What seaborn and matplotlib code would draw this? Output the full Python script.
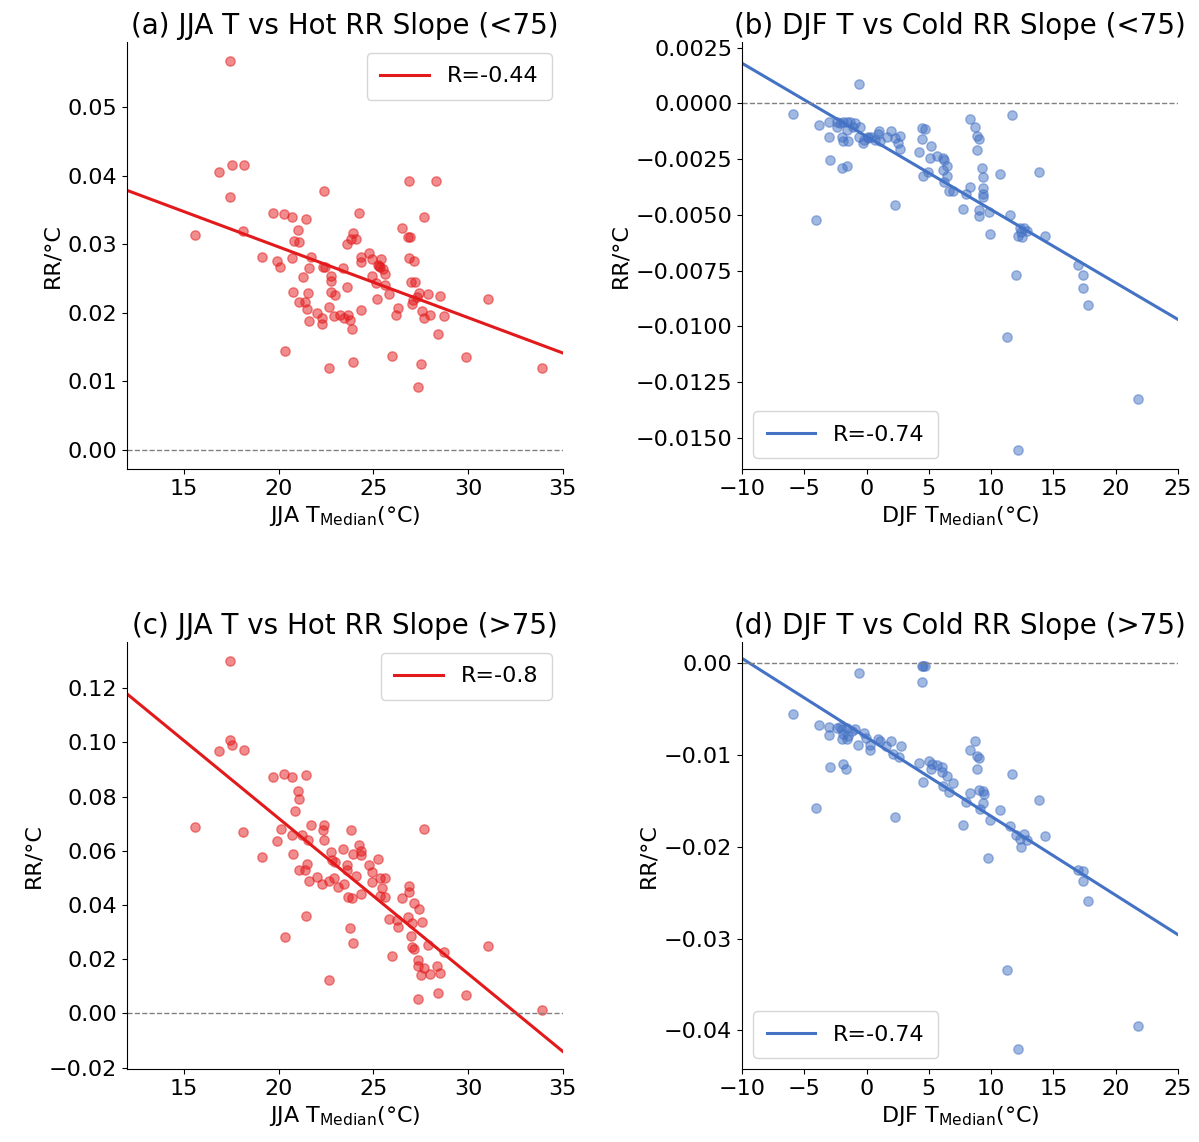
import matplotlib
matplotlib.use('Agg')
import matplotlib.pyplot as plt
import seaborn as sns

# JJA median temperature vs hot RR slope, cities with <75 / >75
jja_lt75_t = [17.44, 16.87, 17.52, 18.19, 17.44, 15.6, 18.1, 22.41, 26.9, 28.32,
              19.69, 20.27, 20.69, 21.43, 24.26, 27.67, 21.0, 20.83, 21.09, 26.5,
              26.85, 26.94, 23.93, 24.08, 23.8, 23.59, 19.1, 19.93, 20.09, 20.69,
              21.69, 21.6, 22.36, 22.45, 23.42, 24.77, 24.35, 24.35, 24.91, 25.4,
              25.23, 25.35, 25.53, 25.62, 24.91, 25.14, 25.62, 26.9, 27.16, 26.99,
              27.2, 27.41, 27.9, 28.5, 27.28, 27.06, 31.07, 21.27, 22.75, 22.77,
              23.59, 20.78, 21.57, 22.77, 22.98, 25.85, 25.18, 21.08, 21.39, 21.48,
              22.66, 22.01, 22.27, 21.6, 22.27, 22.92, 23.24, 23.68, 23.79, 23.45,
              23.86, 24.35, 26.28, 26.18, 27.55, 27.67, 27.99, 28.74, 28.39, 20.34,
              22.68, 23.93, 26.0, 27.5, 29.89, 27.34, 33.9, 25.3, 27.07]
jja_lt75_rr = [0.0567, 0.0406, 0.0415, 0.0415, 0.0369, 0.0314, 0.0319, 0.0378, 0.0392, 0.0392,
               0.0346, 0.0344, 0.0340, 0.0337, 0.0346, 0.0339, 0.0321, 0.0305, 0.0303, 0.0323,
               0.0311, 0.0310, 0.0316, 0.0307, 0.0307, 0.0301, 0.0282, 0.0275, 0.0267, 0.0280,
               0.0282, 0.0266, 0.0267, 0.0267, 0.0266, 0.0287, 0.0282, 0.0274, 0.0278, 0.0278,
               0.0270, 0.0267, 0.0264, 0.0257, 0.0253, 0.0243, 0.0240, 0.0280, 0.0275, 0.0245,
               0.0245, 0.0229, 0.0227, 0.0225, 0.0223, 0.0213, 0.0220, 0.0252, 0.0253, 0.0246,
               0.0238, 0.0231, 0.0229, 0.0231, 0.0226, 0.0227, 0.0220, 0.0215, 0.0216, 0.0205,
               0.0209, 0.0199, 0.0193, 0.0188, 0.0183, 0.0195, 0.0196, 0.0197, 0.0190, 0.0192,
               0.0176, 0.0204, 0.0207, 0.0197, 0.0202, 0.0193, 0.0197, 0.0195, 0.0169, 0.0144,
               0.0120, 0.0128, 0.0137, 0.0125, 0.0135, 0.0091, 0.0119, 0.0268, 0.0219]

jja_gt75_t = [17.44, 16.87, 17.44, 17.52, 18.19, 15.6, 18.1, 19.69, 20.27, 20.69,
              21.43, 21.0, 21.09, 20.86, 20.1, 19.93, 20.69, 21.69, 22.41, 22.36,
              21.22, 21.57, 22.41, 23.84, 27.67, 19.1, 20.78, 21.52, 21.08, 21.39,
              22.77, 22.8, 23.0, 23.42, 23.93, 24.26, 24.35, 24.35, 23.59, 23.59,
              24.77, 25.23, 24.91, 21.6, 22.01, 22.27, 22.66, 22.94, 23.15, 23.45,
              24.08, 23.68, 23.86, 24.35, 24.91, 25.35, 25.62, 25.44, 25.35, 25.62,
              26.9, 26.9, 26.5, 27.16, 27.41, 25.85, 26.23, 26.28, 26.85, 27.06,
              27.58, 26.99, 27.06, 27.16, 27.9, 28.74, 27.34, 27.34, 27.69, 27.5,
              27.99, 28.34, 28.5, 28.39, 27.34, 29.89, 31.07, 33.9, 21.43, 20.34,
              23.77, 23.93, 26.0, 22.68]
jja_gt75_rr = [0.1299, 0.0967, 0.1009, 0.0991, 0.0972, 0.0686, 0.0669, 0.0874, 0.0884, 0.0874,
               0.0880, 0.0822, 0.0792, 0.0746, 0.0681, 0.0635, 0.0658, 0.0694, 0.0694, 0.0675,
               0.0658, 0.0640, 0.0640, 0.0675, 0.0681, 0.0576, 0.0588, 0.0553, 0.0529, 0.0529,
               0.0594, 0.0566, 0.0560, 0.0605, 0.0588, 0.0622, 0.0599, 0.0584, 0.0546, 0.0529,
               0.0546, 0.0569, 0.0522, 0.0489, 0.0504, 0.0479, 0.0489, 0.0501, 0.0467, 0.0476,
               0.0506, 0.0430, 0.0424, 0.0442, 0.0485, 0.0498, 0.0500, 0.0461, 0.0433, 0.0430,
               0.0471, 0.0449, 0.0424, 0.0409, 0.0386, 0.0350, 0.0344, 0.0319, 0.0354, 0.0334,
               0.0338, 0.0285, 0.0245, 0.0239, 0.0251, 0.0227, 0.0196, 0.0175, 0.0169, 0.0140,
               0.0147, 0.0175, 0.0150, 0.0075, 0.0052, 0.0069, 0.0250, 0.0011, 0.0361, 0.0281,
               0.0315, 0.0261, 0.0211, 0.0122]

# DJF median temperature vs cold RR slope
djf_lt75_t = [-0.6, -5.93, -3.79, -3.04, -3.04, -2.9, -4.03, -1.94, -1.59, -2.4,
              -2.13, -1.86, -1.59, -1.32, -2.4, -2.0, -1.86, -1.46, -1.59, -1.06,
              -0.57, -0.65, -0.25, -0.31, 0.09, 0.33, 0.68, 1.03, 0.95, 1.08,
              1.62, 1.97, 2.29, 2.64, 2.48, 2.64, 2.29, 4.46, 4.7, 4.43,
              4.22, 5.18, 5.05, 5.69, 6.12, 6.25, 6.49, 6.12, 6.49, 4.56,
              4.96, 6.25, 6.65, 6.92, 7.99, 8.26, 7.72, 8.26, 8.74, 8.88,
              9.01, 8.88, 9.25, 9.38, 9.38, 9.38, 9.38, 9.01, 9.06, 9.79,
              9.87, 10.67, 11.68, 11.55, 12.28, 12.6, 12.38, 12.14, 12.46, 12.86,
              14.34, 13.8, 12.0, 11.26, 12.14, 16.96, 17.36, 17.36, 17.74, 21.78,
              -0.92, 0.14]
djf_lt75_rr = [0.00087, -0.00047, -0.00096, -0.00083, -0.00153, -0.00252, -0.00522, -0.00288, -0.00280, -0.00083,
               -0.00089, -0.00082, -0.00082, -0.00082, -0.00107, -0.00149, -0.00168, -0.00171, -0.00119, -0.00104,
               -0.00107, -0.00149, -0.00164, -0.00180, -0.00149, -0.00152, -0.00164, -0.00122, -0.00137, -0.00168,
               -0.00149, -0.00122, -0.00156, -0.00146, -0.00179, -0.00204, -0.00458, -0.00111, -0.00115, -0.00159,
               -0.00216, -0.00193, -0.00243, -0.00234, -0.00246, -0.00254, -0.00281, -0.00301, -0.00328, -0.00328,
               -0.00310, -0.00353, -0.00395, -0.00395, -0.00405, -0.00373, -0.00472, -0.00068, -0.00104, -0.00146,
               -0.00161, -0.00208, -0.00288, -0.00331, -0.00378, -0.00406, -0.00421, -0.00478, -0.00507, -0.00487,
               -0.00585, -0.00316, -0.00054, -0.00500, -0.00560, -0.00560, -0.00579, -0.00594, -0.00600, -0.00572,
               -0.00593, -0.00309, -0.00769, -0.01046, -0.01554, -0.00727, -0.00771, -0.00826, -0.00904, -0.01327,
               -0.00086, -0.00157]

djf_gt75_t = [-0.6, 4.43, 4.7, 4.51, 4.43, -5.93, -3.79, -3.04, -3.04, -2.4,
              -2.0, -1.59, -1.19, -1.86, -1.46, -2.0, -1.54, -0.73, -0.25, -0.04,
              0.3, 0.3, 0.95, 1.08, 1.57, 1.94, 2.1, 2.56, 2.72, 2.29,
              -2.9, -1.86, -1.62, -4.03, 4.22, 4.99, 5.23, 5.69, 6.09, 5.18,
              6.09, 6.44, 6.97, 6.17, 6.65, 4.56, 8.26, 7.99, 7.72, 8.74,
              8.26, 8.88, 9.01, 8.88, 9.01, 9.33, 9.44, 9.38, 9.12, 9.92,
              9.73, 10.67, 11.68, 11.52, 12.0, 12.65, 12.28, 12.86, 12.41, 14.34,
              13.83, 16.96, 17.36, 17.36, 17.74, 11.26, 12.14, 21.78, -0.92, -2.13]
djf_gt75_rr = [-0.00104, -0.00031, -0.00031, -0.00035, -0.00206, -0.00552, -0.00672, -0.00694, -0.00778, -0.00708,
               -0.00716, -0.00708, -0.00734, -0.00770, -0.00789, -0.00825, -0.00825, -0.00891, -0.00764, -0.00814,
               -0.00891, -0.00942, -0.00825, -0.00843, -0.00898, -0.00843, -0.00989, -0.01018, -0.00898, -0.01674,
               -0.01135, -0.01102, -0.01153, -0.01572, -0.01088, -0.01070, -0.01099, -0.01106, -0.01135, -0.01153,
               -0.01190, -0.01226, -0.01309, -0.01336, -0.01402, -0.01292, -0.01415, -0.01517, -0.01758, -0.00843,
               -0.00945, -0.01015, -0.01033, -0.01153, -0.01379, -0.01390, -0.01426, -0.01528, -0.01590, -0.01707,
               -0.02122, -0.01601, -0.01208, -0.01772, -0.01874, -0.01863, -0.01918, -0.01925, -0.01998, -0.01882,
               -0.01488, -0.02257, -0.02268, -0.02377, -0.02585, -0.03346, -0.04206, -0.03947, -0.00716, -0.00700]

titles = ['(a) JJA T vs Hot RR Slope (<75)', '(b) DJF T vs Cold RR Slope (<75)',
          '(c) JJA T vs Hot RR Slope (>75)', '(d) DJF T vs Cold RR Slope (>75)']
r_labels = ['R=-0.44', 'R=-0.74', 'R=-0.8', 'R=-0.74']
jja_xticks = [15, 20, 25, 30, 35]
djf_xticks = [-10, -5, 0, 5, 10, 15, 20, 25]

RED = '#e31a1c'
BLUE = '#4472c4'

panels = [
    (jja_lt75_t, jja_lt75_rr, RED, r'JJA T$_{\rm Median}$(°C)', (12, 35), jja_xticks, (-0.0028, 0.0595), 'upper right'),
    (djf_lt75_t, djf_lt75_rr, BLUE, r'DJF T$_{\rm Median}$(°C)', (-10, 25), djf_xticks, (-0.0164, 0.00275), 'lower left'),
    (jja_gt75_t, jja_gt75_rr, RED, r'JJA T$_{\rm Median}$(°C)', (12, 35), jja_xticks, (-0.0205, 0.137), 'upper right'),
    (djf_gt75_t, djf_gt75_rr, BLUE, r'DJF T$_{\rm Median}$(°C)', (-10, 25), djf_xticks, (-0.0442, 0.0023), 'lower left'),
]

fig = plt.figure(figsize=(11.99, 11.42), dpi=100)
rects = [[0.1059, 0.5893, 0.3636, 0.3739], [0.6189, 0.5893, 0.3636, 0.3739],
         [0.1059, 0.0639, 0.3636, 0.3739], [0.6189, 0.0639, 0.3636, 0.3739]]

for i, (x, y, color, xlabel, xlim, xticks, ylim, loc) in enumerate(panels):
    ax = fig.add_axes(rects[i])
    ax.set_xlim(*xlim)
    sns.regplot(x=x, y=y, ax=ax, ci=None, truncate=False, color=color,
                scatter_kws={'alpha': 0.5, 's': 45},
                line_kws={'label': r_labels[i], 'lw': 2.2})
    ax.axhline(0, color='grey', ls='--', lw=1)
    ax.set_ylim(*ylim)
    ax.set_xlim(*xlim)
    ax.set_xticks(xticks)
    ax.set_title(titles[i], fontsize=20)
    ax.set_xlabel(xlabel, fontsize=16)
    ax.set_ylabel('RR/°C', fontsize=16)
    ax.tick_params(labelsize=16)
    ax.legend(loc=loc, fontsize=16, borderpad=0.6, handlelength=2.2)
    sns.despine(ax=ax)

fig.savefig('out.png', dpi=100)
